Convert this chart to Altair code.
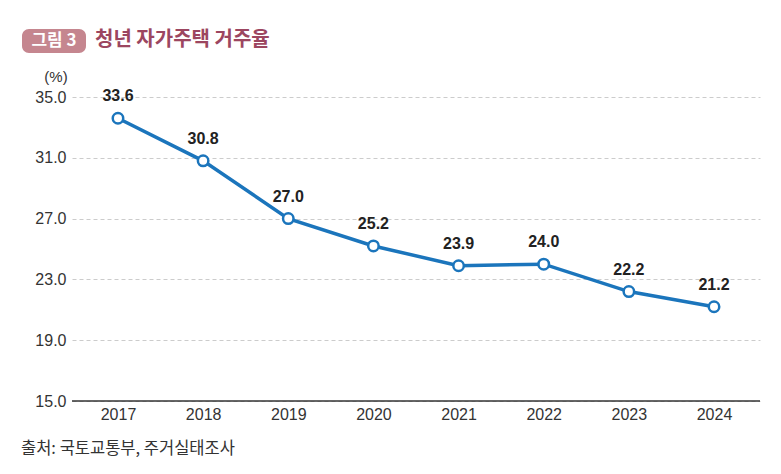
import altair as alt
import pandas as pd

years = ["2017", "2018", "2019", "2020", "2021", "2022", "2023", "2024"]
rates = [33.6, 30.8, 27.0, 25.2, 23.9, 24.0, 22.2, 21.2]
y_ticks = [15.0, 19.0, 23.0, 27.0, 31.0, 35.0]

badge_text = "그림 3"
title_text = "청년 자가주택 거주율"
unit_text = "(%)"
source_text = "출처: 국토교통부, 주거실태조사"

df = pd.DataFrame({"year": years, "rate": rates})

KR = "Noto Sans CJK KR"
NUM = "Liberation Sans"
BLUE = "#1b75bc"

W, H = 688, 304

x = alt.X("year:O", title=None,
          scale=alt.Scale(type="point", padding=0.54),
          axis=alt.Axis(labelAngle=0, labelFont=NUM, labelFontSize=16,
                        labelColor="#333333", ticks=False, domain=False,
                        labelPadding=5, grid=False))
y = alt.Y("rate:Q", title=None,
          scale=alt.Scale(domain=[15, 35], nice=False, zero=False),
          axis=alt.Axis(values=y_ticks, format=".1f", labelFont=NUM,
                        labelFontSize=16, labelColor="#333333", ticks=False,
                        domain=False, labelPadding=6, grid=True,
                        gridColor="#cccccc", gridDash=[4, 3], gridWidth=1))

base = alt.Chart(df)

line = base.mark_line(color=BLUE, strokeWidth=3.5).encode(x=x, y=y)
pts = base.mark_point(filled=True, fill="white", stroke=BLUE, strokeWidth=2.5,
                      size=110, opacity=1).encode(x=x, y=y)
labels = base.mark_text(font=NUM, fontSize=16, fontWeight="bold", color="#222222",
                        dy=-22).encode(x=x, y=y, text=alt.Text("rate:Q", format=".1f"))

baseline = alt.Chart(pd.DataFrame({"v": [15.0]})).mark_rule(
    color="#333333", strokeWidth=1.5).encode(y=alt.Y("v:Q", scale=alt.Scale(domain=[15, 35], nice=False, zero=False)))

deco = pd.DataFrame({"d": [0]})
badge = alt.Chart(deco).mark_rect(color="#c5868f", cornerRadius=7).encode(
    x=alt.value(-50), x2=alt.value(14), y=alt.value(-68), y2=alt.value(-44))
badge_lbl = alt.Chart(deco).mark_text(text=badge_text, font=KR, fontSize=17,
                                      fontWeight="bold", color="white",
                                      align="center", baseline="middle").encode(
    x=alt.value(-18), y=alt.value(-56))
title = alt.Chart(deco).mark_text(text=title_text, font=KR, fontSize=20,
                                  fontWeight="bold", color="#9c4660",
                                  align="left", baseline="middle").encode(
    x=alt.value(23), y=alt.value(-57))
unit = alt.Chart(deco).mark_text(text=unit_text, font=NUM, fontSize=15,
                                 color="#333333", align="center",
                                 baseline="middle").encode(
    x=alt.value(-16), y=alt.value(-20))
source = alt.Chart(deco).mark_text(text=source_text, font=KR, fontSize=16.5,
                                   color="#333333", align="left",
                                   baseline="middle").encode(
    x=alt.value(-51), y=alt.value(352))

chart = alt.layer(baseline, line, pts, labels, badge, badge_lbl, title, unit, source).properties(
    width=W, height=H,
    background="white",
    autosize=alt.AutoSizeParams(type="none"),
    padding={"left": 64, "top": 89, "right": 13, "bottom": 65},
).configure_view(strokeWidth=0, stroke="transparent")

chart.save("out.html", embed_options={"renderer": "svg", "actions": False})
